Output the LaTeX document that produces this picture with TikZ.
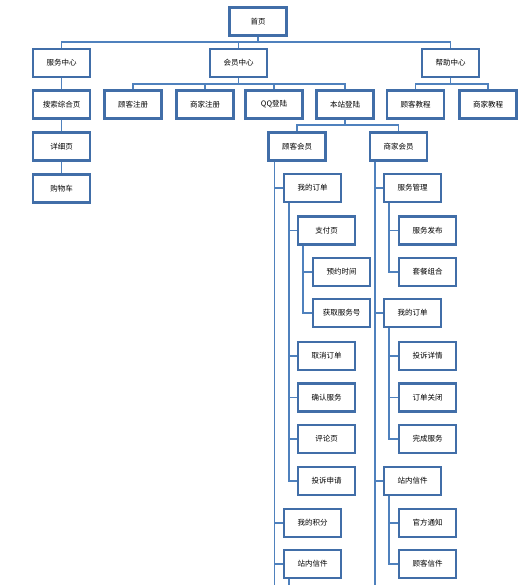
\documentclass[tikz,border=0pt]{standalone}
\usepackage{fontspec}
\newfontfamily\cjk{Noto Sans CJK SC}
\usepackage{tikz}
\usetikzlibrary{positioning}
\definecolor{boxblue}{RGB}{65,110,168}
\definecolor{lineblue}{RGB}{79,129,189}

\begin{document}
\begin{tikzpicture}[x=1pt, y=-1pt,
  box/.style={draw=boxblue, line width=2.2pt, fill=white, minimum width=57pt, minimum height=28pt,
    inner sep=0pt, font=\cjk\fontsize{7.5}{8}\selectfont},
  link/.style={draw=lineblue, line width=1.8pt}]
\useasboundingbox (0,0) rectangle (527,585);
\coordinate (cut) at (0,586);
% top level
\node[box] (home) at (258,21.5) {首页};
\node[box] (svc) at (61.5,63) {服务中心};
\node[box] (mem) at (238.5,63) {会员中心};
\node[box] (help) at (450.5,63) {帮助中心};
% second row
\node[box] (search) at (61.5,104.5) {搜索综合页};
\node[box] (greg) at (133,104.5) {顾客注册};
\node[box] (mreg) at (205,104.5) {商家注册};
\node[box] (qq) at (274,104.5) {QQ登陆};
\node[box] (local) at (345,104.5) {本站登陆};
\node[box] (gtut) at (415.5,104.5) {顾客教程};
\node[box] (mtut) at (488,104.5) {商家教程};
\node[box] (detail) at (61.5,146.5) {详细页};
\node[box] (cart) at (61.5,188.5) {购物车};
\node[box] (gk) at (297,146.5) {顾客会员};
\node[box] (mk) at (398.5,146.5) {商家会员};
% customer member
\node[box] (order1) at (312.5,188) {我的订单};
\node[box] (pay) at (326.5,230.5) {支付页};
\node[box] (time) at (341.5,272) {预约时间};
\node[box] (num) at (341.5,313) {获取服务号};
\node[box] (cancel) at (326.5,356) {取消订单};
\node[box] (confirm) at (326.5,397.5) {确认服务};
\node[box] (review) at (326.5,439) {评论页};
\node[box] (complain) at (326.5,481) {投诉申请};
\node[box] (points) at (312.5,523) {我的积分};
\node[box] (mail1) at (312.5,564) {站内信件};
% merchant member
\node[box] (manage) at (412.5,188) {服务管理};
\node[box] (publish) at (427.5,230.5) {服务发布};
\node[box] (combo) at (427.5,272) {套餐组合};
\node[box] (order2) at (412.5,313) {我的订单};
\node[box] (cdetail) at (427.5,356) {投诉详情};
\node[box] (close) at (427.5,397.5) {订单关闭};
\node[box] (done) at (427.5,439) {完成服务};
\node[box] (mail2) at (412.5,481) {站内信件};
\node[box] (notice) at (427.5,523) {官方通知};
\node[box] (cmail) at (427.5,564) {顾客信件};

\coordinate (b0) at (258,42);
\coordinate (b1) at (238.5,84);
\coordinate (b2) at (450.5,84);
\coordinate (b3) at (345,125);
\foreach \n in {svc,mem,help} \draw[link] (home.south) -- (b0) -| (\n.north);
\foreach \n in {greg,mreg,qq,local} \draw[link] (mem.south) -- (b1) -| (\n.north);
\foreach \n in {gtut,mtut} \draw[link] (help.south) -- (b2) -| (\n.north);
\foreach \n in {gk,mk} \draw[link] (local.south) -- (b3) -| (\n.north);
\draw[link] (svc) -- (search);
\draw[link] (search) -- (detail);
\draw[link] (detail) -- (cart);
% side trunks
\coordinate (t1) at ([xshift=7pt]gk.south west);
\coordinate (t2) at ([xshift=6pt]order1.south west);
\coordinate (t3) at ([xshift=6pt]pay.south west);
\coordinate (t4) at ([xshift=6pt]mail1.south west);
\coordinate (t5) at ([xshift=6pt]mk.south west);
\coordinate (t6) at ([xshift=6pt]manage.south west);
\coordinate (t7) at ([xshift=6pt]order2.south west);
\coordinate (t8) at ([xshift=6pt]mail2.south west);
\draw[link] (t1) -- (t1 |- cut);
\draw[link] (t4) -- (t4 |- cut);
\draw[link] (t5) -- (t5 |- cut);
\foreach \n in {order1,points,mail1} \draw[link] (t1) |- (\n.west);
\foreach \n in {pay,cancel,confirm,review,complain} \draw[link] (t2) |- (\n.west);
\foreach \n in {time,num} \draw[link] (t3) |- (\n.west);
\foreach \n in {manage,order2,mail2} \draw[link] (t5) |- (\n.west);
\foreach \n in {publish,combo} \draw[link] (t6) |- (\n.west);
\foreach \n in {cdetail,close,done} \draw[link] (t7) |- (\n.west);
\foreach \n in {notice,cmail} \draw[link] (t8) |- (\n.west);
\end{tikzpicture}
\end{document}
